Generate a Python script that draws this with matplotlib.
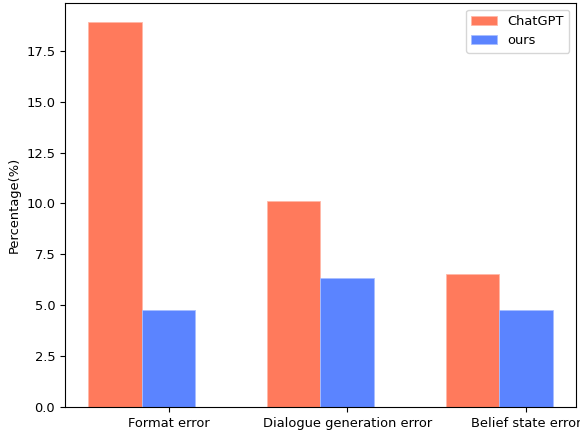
import numpy as np
import matplotlib
matplotlib.use("Agg")
import matplotlib.pyplot as plt

# data
categories = ["Format error", "Dialogue generation error", "Belief state error"]
chatgpt_vals = [18.9, 10.13, 6.52]
ours_vals = [4.75, 6.33, 4.75]

plt.rcParams["font.size"] = 9.4

width = 0.3
x = np.arange(len(categories))

fig = plt.figure(figsize=(5.8, 4.32), dpi=100)
ax = fig.add_axes([0.112, 0.058, 0.881, 0.935])

ax.bar(x, chatgpt_vals, width, color="#FF7A5C", edgecolor="#FFB8A8", linewidth=0.6, label="ChatGPT")
ax.bar(x + width, ours_vals, width, color="#5B84FF", edgecolor="#A8BEFF", linewidth=0.6, label="ours")

ax.set_xticks(x + width)
ax.set_xticklabels(categories)
ax.set_ylabel("Percentage(%)")
ax.legend(loc="upper right")

fig.savefig("out.png", dpi=100)
